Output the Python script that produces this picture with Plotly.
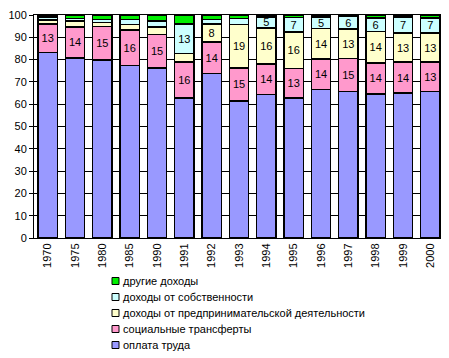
import plotly.graph_objects as go

years = ["1970", "1975", "1980", "1985", "1990", "1991", "1992", "1993",
         "1994", "1995", "1996", "1997", "1998", "1999", "2000"]

labor = [83.2, 80.7, 79.9, 77.3, 76.2, 62.8, 73.7, 61.5, 64.3, 62.8, 66.5, 65.6, 64.6, 65.0, 65.6]
social = [12.8, 14.0, 15.0, 16.0, 15.0, 16.2, 14.3, 14.8, 13.8, 13.1, 13.8, 15.0, 13.9, 13.9, 13.3]
entrep = [1.8, 2.5, 1.8, 2.5, 3.5, 3.8, 8.0, 19.4, 16.1, 16.4, 13.6, 13.1, 14.1, 13.0, 13.0]
property_ = [1.4, 1.3, 1.3, 2.2, 2.5, 13.2, 1.9, 2.8, 5.0, 6.6, 5.2, 5.6, 6.1, 7.1, 6.8]
other = [0.8, 1.5, 2.0, 2.0, 2.8, 4.0, 2.1, 1.5, 0.8, 1.1, 0.9, 0.7, 1.3, 1.0, 1.3]

names = ["оплата труда", "социальные трансферты",
         "доходы от предпринимательской деятельности",
         "доходы от собственности", "другие доходы"]
colors = ["#9999FF", "#FF99CC", "#FFFFCC", "#CCFFFF", "#00EE00"]
series = [labor, social, entrep, property_, other]
labelled = [False, True, True, True, False]

# page has an 8px body margin: figure coordinates = page coordinates - 8
OFF = 8
W, H = 449 - OFF, 358 - OFF
ML, MT = 34 - OFF, 15 - OFF
MR = W - (444 - OFF)
MB = H - (238 - OFF)
PW, PH = W - ML - MR, H - MT - MB

fig = go.Figure()
for vals, name, col, lab in zip(series, names, colors, labelled):
    txt = [str(int(v + 0.5)) if (lab and v >= 4.5) else "" for v in vals]
    fig.add_trace(go.Bar(
        x=years, y=vals, name=name, showlegend=False,
        marker=dict(color=col, line=dict(color="black", width=1.5)),
        text=txt, textposition="inside", insidetextanchor="middle",
        textangle=0, textfont=dict(size=11, color="black", family="Liberation Sans, Arial"),
        hoverinfo="skip",
    ))

# manual legend (top row = last series), positions in page pixels
row0, rowstep = 281, 16
sq_x0, sq_size, text_x = 112, 7, 121
shapes, annotations = [], []
for i, (name, col) in enumerate(zip(names[::-1], colors[::-1])):
    cy = row0 + i * rowstep - OFF
    shapes.append(dict(
        type="rect", xref="paper", yref="paper",
        x0=(sq_x0 - OFF - ML) / PW, x1=(sq_x0 - OFF + sq_size - ML) / PW,
        y0=(H - MB - (cy + sq_size / 2)) / PH, y1=(H - MB - (cy - sq_size / 2)) / PH,
        fillcolor=col, line=dict(color="black", width=1), layer="above",
    ))
    annotations.append(dict(
        xref="paper", yref="paper", x=(text_x - OFF - ML) / PW, y=(H - MB - cy) / PH,
        xanchor="left", yanchor="middle", text=name, showarrow=False,
        font=dict(size=11, color="black"),
    ))

fig.update_layout(
    barmode="stack", bargap=0.29,
    width=W, height=H,
    margin=dict(l=ML, r=MR, t=MT, b=MB, autoexpand=False),
    paper_bgcolor="white", plot_bgcolor="white",
    font=dict(family="Liberation Sans, Arial", size=11, color="black"),
    uniformtext=dict(minsize=11, mode="show"),
    showlegend=False,
    shapes=shapes, annotations=annotations,
)
fig.update_xaxes(
    type="category",
    tickangle=-90, showline=True, linecolor="black", linewidth=1, mirror=True,
    ticks="", tickfont=dict(size=11),
)
fig.update_yaxes(
    range=[0, 100], dtick=10, showgrid=True, gridcolor="black", gridwidth=1,
    showline=True, linecolor="black", linewidth=1, mirror=True,
    ticks="outside", ticklen=4, tickcolor="black", tickfont=dict(size=11),
    zeroline=False,
)

fig.write_html("out.html")
